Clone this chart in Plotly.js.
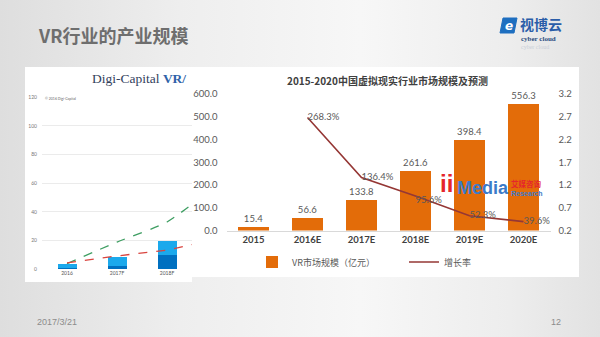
<!DOCTYPE html>
<html>
<head>
<meta charset="utf-8">
<script src="https://cdn.plot.ly/plotly-3.0.1.min.js"></script>
<style>
html,body{margin:0;padding:0;}
body{width:600px;height:337px;overflow:hidden;
background:linear-gradient(to right,#dedede 0%,#eeeeee 30%,#f7f7f7 60%,#ededed 85%,#e2e2e2 100%);}
#chart{width:600px;height:337px;}
</style>
</head>
<body>
<div id="chart"></div>
<script>
// ---- main chart data ----
const categories = ['2015','2016E','2017E','2018E','2019E','2020E'];
const marketSize = [15.4, 56.6, 133.8, 261.6, 398.4, 556.3];
const growthCats = ['2016E','2017E','2018E','2019E','2020E'];
const growthRate = [2.683, 1.364, 0.956, 0.523, 0.396];
const growthLabels = ['268.3%','136.4%','95.6%','52.3%','39.6%'];
const leftTicks = [0,100,200,300,400,500,600];
const rightTicks = [0.2,0.7,1.2,1.7,2.2,2.7,3.2];
const seriesNames = ['VR市场规模（亿元）','增长率'];

// ---- partial Digi-Capital chart data ----
const dcYears = ['2016','2017F','2018F','2019F'];
const dcDark = [1.0, 2.3, 10.0];
const dcLight = [2.8, 6.5, 9.7];
const dcGreen = [4, 19, 33, 59];
const dcRed = [4.5, 9.3, 13.4, 21];
const dcTicks = [0,20,40,60,80,100,120];

const W = 600, H = 337;
const px = x => x / W;
const py = y => 1 - y / H;
const NUM = 'Lato, "Noto Sans", sans-serif';
const CJK = '"Noto Sans CJK SC", sans-serif';

const traces = [
  {type:'bar', x:categories, y:marketSize, name:seriesNames[0], legend:'legend',
   marker:{color:'#E36C09'}, width:0.57,
   text:marketSize.map(v=>v.toFixed(1)), textposition:'outside', cliponaxis:false,
   textfont:{family:NUM, size:9.5, color:'#595959'},
   xaxis:'x', yaxis:'y', hoverinfo:'skip'},
  {type:'scatter', mode:'lines+text', x:growthCats, y:growthRate, name:seriesNames[1], legend:'legend2',
   line:{color:'#953735', width:1.6},
   text:growthLabels,
   textposition:['middle right','middle right','bottom right','middle right','middle right'],
   textfont:{family:NUM, size:9.5, color:'#595959'}, cliponaxis:false,
   xaxis:'x', yaxis:'y2', hoverinfo:'skip'},
  // Digi-Capital partial chart
  {type:'bar', x:dcYears.slice(0,3), y:dcDark, marker:{color:'#0070C0'}, width:0.38,
   xaxis:'x2', yaxis:'y3', showlegend:false, hoverinfo:'skip'},
  {type:'bar', x:dcYears.slice(0,3), y:dcLight, marker:{color:'#1BA9EC'}, width:0.38,
   xaxis:'x2', yaxis:'y3', showlegend:false, hoverinfo:'skip'},
  {type:'scatter', mode:'lines', x:dcYears, y:dcGreen, line:{color:'#3E9E62', width:1.3, dash:'dash', shape:'spline', smoothing:0.6},
   xaxis:'x2', yaxis:'y3', showlegend:false, hoverinfo:'skip'},
  {type:'scatter', mode:'lines', x:dcYears, y:dcRed, line:{color:'#D9443F', width:1.3, dash:'dash'},
   xaxis:'x2', yaxis:'y3', showlegend:false, hoverinfo:'skip'}
];

const legendBase = {orientation:'h', xanchor:'left', yanchor:'middle', y:py(262),
  font:{family:CJK, size:9, color:'#595959'}, bgcolor:'rgba(0,0,0,0)', itemwidth:30};

const layout = {
  width:W, height:H, margin:{l:0,r:0,t:0,b:0, autoexpand:false},
  paper_bgcolor:'rgba(0,0,0,0)', plot_bgcolor:'rgba(0,0,0,0)',
  barmode:'stack', showlegend:true,
  legend:Object.assign({}, legendBase, {x:px(252)}),
  legend2:Object.assign({}, legendBase, {x:px(404)}),
  xaxis:{domain:[px(226.5), px(550.5)], anchor:'y', type:'category', categoryarray:categories,
         range:[-0.5,5.5], showline:true, linecolor:'#d9d9d9', linewidth:1, ticks:'',
         showgrid:false, zeroline:false, automargin:false,
         tickfont:{family:NUM, size:9.5, color:'#404040', weight:700}},
  yaxis:{domain:[py(230.5), py(94)], anchor:'x', range:[0,600], tickvals:leftTicks, tickformat:'.1f',
         showgrid:false, zeroline:false, showline:false, ticks:'', ticklabelstandoff:8, automargin:false,
         tickfont:{family:NUM, size:9.5, color:'#595959'}},
  yaxis2:{overlaying:'y', side:'right', anchor:'x', range:[0.2,3.2], tickvals:rightTicks, tickformat:'.1f',
          showgrid:false, zeroline:false, showline:false, ticks:'', ticklabelstandoff:7, automargin:false,
          tickfont:{family:NUM, size:9.5, color:'#595959'}},
  xaxis2:{domain:[px(42), px(192)], anchor:'y3', type:'category', categoryarray:dcYears,
          range:[-0.5,2.5], showline:false, ticks:'', showgrid:false, zeroline:false, automargin:false,
          tickfont:{family:NUM, size:5, color:'#555555'}},
  yaxis3:{domain:[py(269.3), py(97.3)], anchor:'x2', range:[0,120], tickvals:dcTicks,
          showgrid:true, gridcolor:'#ebebeb', gridwidth:1, zeroline:false, ticks:'', ticklabelstandoff:4,
          automargin:false, tickfont:{family:NUM, size:5, color:'#777777'}},
  shapes:[
    {type:'rect', xref:'paper', yref:'paper', x0:px(25), x1:px(192), y0:py(282), y1:py(67),
     fillcolor:'#ffffff', line:{width:0}, layer:'below'},
    {type:'rect', xref:'paper', yref:'paper', x0:px(192), x1:px(579), y0:py(277), y1:py(67),
     fillcolor:'#ffffff', line:{width:0}, layer:'below'},
    {type:'path', xref:'paper', yref:'paper', layer:'above',
     path:`M ${px(503)} ${py(18)} L ${px(517)} ${py(18)} L ${px(514)} ${py(33)} L ${px(500)} ${py(33)} Z`,
     fillcolor:'#1E6FC0', line:{color:'#1E6FC0', width:1}}
  ],
  annotations:[
    {xref:'paper', yref:'paper', x:px(36), y:py(35), xanchor:'left', yanchor:'middle', showarrow:false,
     text:'<b>VR行业的产业规模</b>', font:{family:CJK, size:18, color:'#6e6e6e'}},
    {xref:'paper', yref:'paper', x:px(508.5), y:py(25.5), xanchor:'center', yanchor:'middle', showarrow:false,
     text:'<b><i>e</i></b>', font:{family:'DejaVu Sans', size:12, color:'#ffffff'}},
    {xref:'paper', yref:'paper', x:px(518), y:py(24), xanchor:'left', yanchor:'middle', showarrow:false,
     text:'<b>视博云</b>', font:{family:CJK, size:14, color:'#2A5DA8'}},
    {xref:'paper', yref:'paper', x:px(519), y:py(39), xanchor:'left', yanchor:'middle', showarrow:false,
     text:'<b>cyber cloud</b>', font:{family:'Liberation Serif', size:7, color:'#2A4C80'}},
    {xref:'paper', yref:'paper', x:px(519), y:py(47), xanchor:'left', yanchor:'middle', showarrow:false,
     text:'cyber cloud', font:{family:'Liberation Serif', size:6, color:'#c9cfd8'}},
    {xref:'paper', yref:'paper', x:px(35), y:py(322), xanchor:'left', yanchor:'middle', showarrow:false,
     text:'2017/3/21', font:{family:'Liberation Sans', size:9, color:'#8c8c8c'}},
    {xref:'paper', yref:'paper', x:px(563), y:py(322), xanchor:'right', yanchor:'middle', showarrow:false,
     text:'12', font:{family:'Liberation Sans', size:9, color:'#8c8c8c'}},
    {xref:'paper', yref:'paper', x:px(387), y:py(81), xanchor:'center', yanchor:'middle', showarrow:false,
     text:'<b>2015-2020中国虚拟现实行业市场规模及预测</b>', font:{family:CJK, size:10, color:'#404040'}},
    {xref:'paper', yref:'paper', x:px(90), y:py(78), xanchor:'left', yanchor:'middle', showarrow:false,
     text:'Digi-Capital <b><span style="color:#2E62A8">VR/</span></b>',
     font:{family:'Liberation Serif', size:13.5, color:'#33415c'}},
    {xref:'paper', yref:'paper', x:px(43), y:py(98), xanchor:'left', yanchor:'middle', showarrow:false,
     text:'© 2016 Digi-Capital', font:{family:NUM, size:3.5, color:'#666666'}},
    {xref:'paper', yref:'paper', x:px(446), y:py(183), xanchor:'center', yanchor:'middle', showarrow:false,
     text:'<b>ii</b>', font:{family:'Liberation Sans', size:24, color:'#E5262C'}},
    {xref:'paper', yref:'paper', x:px(455), y:py(188), xanchor:'left', yanchor:'middle', showarrow:false,
     text:'<b>Media</b>', font:{family:'Liberation Sans', size:18, color:'#3B7BC8'}},
    {xref:'paper', yref:'paper', x:px(509), y:py(183), xanchor:'left', yanchor:'middle', showarrow:false,
     text:'<b>艾媒咨询</b>', font:{family:CJK, size:7.5, color:'#E5262C'}},
    {xref:'paper', yref:'paper', x:px(509), y:py(193), xanchor:'left', yanchor:'middle', showarrow:false,
     text:'<b>Research</b>', font:{family:'Liberation Sans', size:7, color:'#3B7BC8'}}
  ]
};

Plotly.newPlot('chart', traces, layout, {staticPlot:true, displayModeBar:false});
</script>
</body>
</html>
